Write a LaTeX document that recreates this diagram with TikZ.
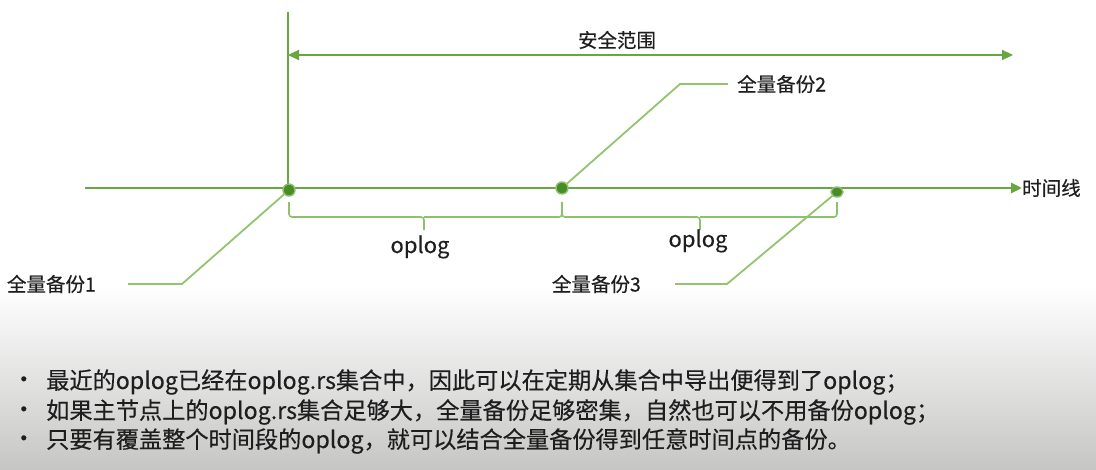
\documentclass[tikz,border=0pt]{standalone}
\usepackage{fontspec}
\setmainfont{Noto Sans CJK SC}[FakeBold=0.35]
\usepackage{tikz}
\usetikzlibrary{arrows.meta}
\usetikzlibrary{shapes.geometric}
\definecolor{axisgreen}{RGB}{104,166,64}
\definecolor{leadgreen}{RGB}{146,196,112}
\definecolor{dotgreen}{RGB}{72,140,38}
\definecolor{txtgray}{RGB}{30,30,30}
\tikzset{
  dot/.style={circle, fill=dotgreen, draw=axisgreen!75!white, line width=1.4pt, inner sep=0pt, minimum size=12pt},
  lead/.style={leadgreen, line width=1.8pt},
  brc/.style={leadgreen!90!axisgreen, line width=1.6pt, rounded corners=3pt},
  lbl/.style={text=txtgray, font=\fontsize{19.5}{21}\selectfont, inner sep=0pt},
  bul/.style={text=txtgray, font=\fontsize{23.2}{25}\selectfont, inner sep=0pt, anchor=west},
  tip/.style={-{Triangle[length=11pt, width=10pt]}}
}
\begin{document}
\begin{tikzpicture}[x=1pt, y=-1pt]
    \useasboundingbox (0,0) rectangle (1096,469);
    \shade [top color=white, bottom color={rgb,255:red,198;green,199;blue,197}] (0,285) rectangle (1096,469);
    % time axis
    \node[lbl, anchor=west] (tl) at (1022,188) {时间线};
    \draw [axisgreen, line width=2.8pt][tip] (85,188) -- (tl.west);
    \draw [axisgreen, line width=2pt] (288,12) -- (288,188);
    \node[lbl] (safe) at (617,40) {安全范围};
    \coordinate (sl) at (288,55);
    \coordinate (sr) at (1013,55);
    \draw [axisgreen, line width=2.2pt][tip] (617,55) -- (sr);
    \draw [axisgreen, line width=2.2pt][tip] (617,55) -- (sl);
    % backups
    \node[dot] (b1) at (289,190) {};
    \node[dot] (b2) at (562,188) {};
    \node[dot, ellipse, minimum width=12pt, minimum height=10pt] (b3) at (837,192) {};
    \node[lbl, anchor=east] (f1) at (96,284) {全量备份1};
    \node[lbl, anchor=west] (f2) at (737,84) {全量备份2};
    \node[lbl, anchor=east] (f3) at (641,284) {全量备份3};
    \draw [lead] (b1) -- (182,284) -- (128,284);
    \draw [lead] (b2) -- (680,84) -- (728,84);
    \draw [lead] (b3) -- (727,284) -- (675,284);
    % braces
    \draw [brc] (289,202) |- (424,217) -- (424,230);
    \draw [brc] (424,217) -| (562,202);
    \draw [brc] (562,202) |- (700,217) -- (700,230);
    \draw [brc] (700,217) -| (837,202);
    \node[lbl, font=\fontsize{22}{23}\selectfont] (op1) at (420,247) {oplog};
    \node[lbl, font=\fontsize{22}{23}\selectfont] (op2) at (698,241) {oplog};
    % notes
    \foreach \yy/\nm/\tx in {382/n1/{最近的oplog已经在oplog.rs集合中，因此可以在定期从集合中导出便得到了oplog；},
                              412/n2/{如果主节点上的oplog.rs集合足够大，全量备份足够密集，自然也可以不用备份oplog；},
                              441/n3/{只要有覆盖整个时间段的oplog，就可以结合全量备份得到任意时间点的备份。}}{
        \node[bul] (d\nm) at (12,\yy) {•};
        \node[bul] (\nm) at (46,\yy) {\tx};
    }
\end{tikzpicture}
\end{document}
